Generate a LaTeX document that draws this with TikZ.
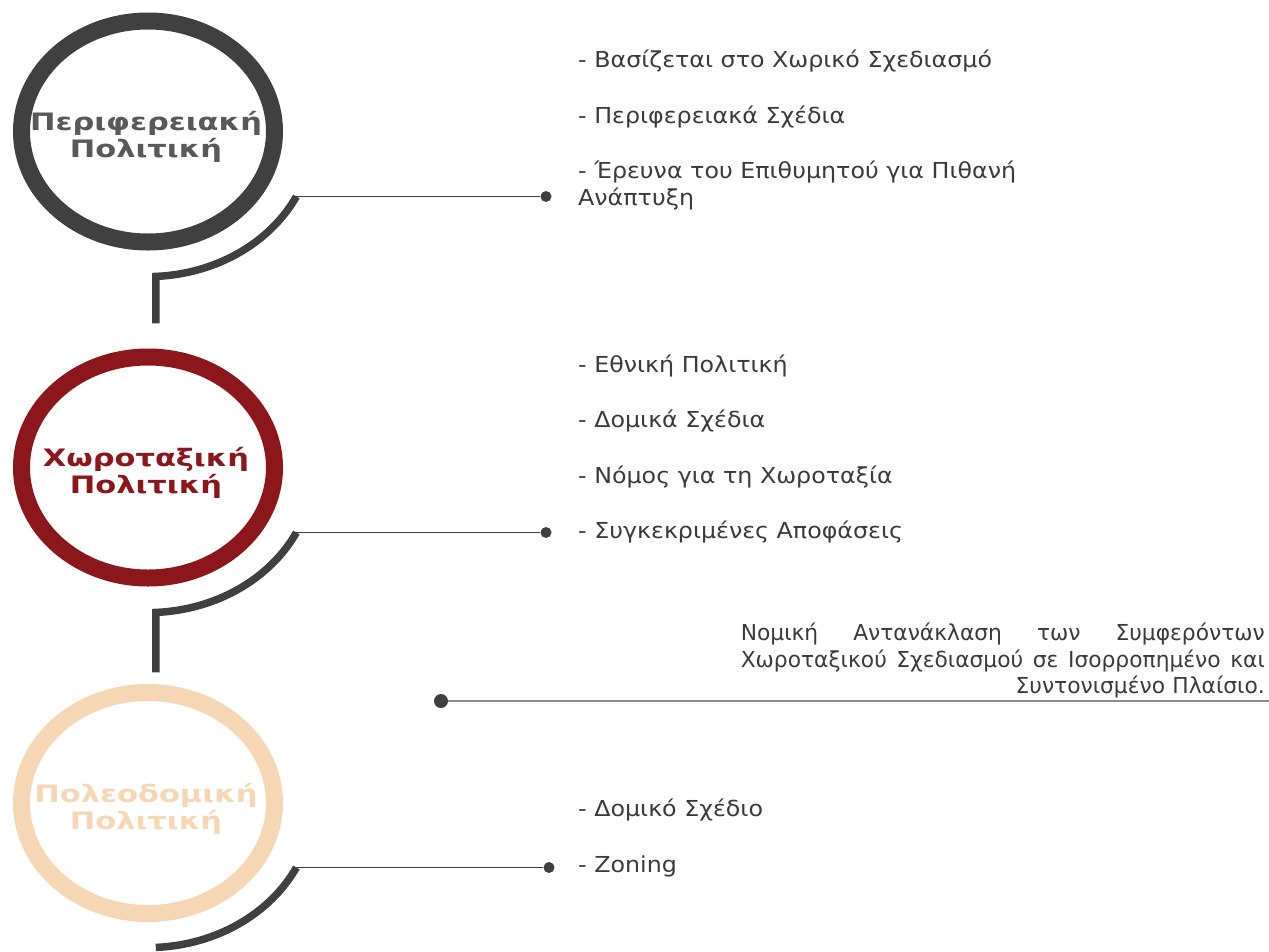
\documentclass[tikz,border=0pt]{standalone}
\usepackage{fontspec}
\setmainfont{DejaVu Sans}
\newfontfamily\labfont[FakeStretch=1.27]{DejaVu Sans}
\newfontfamily\itemfont[FakeStretch=1.08]{DejaVu Sans}
\newfontfamily\parafont[FakeStretch=0.99]{DejaVu Sans}
\usetikzlibrary{shapes.geometric}
\definecolor{darkg}{HTML}{404040}
\definecolor{labg}{HTML}{595959}
\definecolor{wine}{HTML}{8B171C}
\definecolor{peach}{HTML}{F5D7B5}
\definecolor{txt}{HTML}{3B3B3B}
\definecolor{lineg}{HTML}{8C8C8C}
\tikzset{
  ring/.style={ellipse, minimum width=253pt, minimum height=221pt, line width=17pt, inner sep=0pt},
  lab/.style={font=\labfont\bfseries\fontsize{24}{27}\selectfont, align=center, inner sep=0pt},
  conn/.style={draw=darkg, line width=7.5pt},
  thinline/.style={draw=darkg, line width=1.4pt},
  dot/.style={circle, fill=darkg, minimum size=11pt, inner sep=0pt},
  item/.style={font=\itemfont\fontsize{22}{27}\selectfont, text=txt, anchor=base west, align=left, inner sep=0pt}
}
\begin{document}
\begin{tikzpicture}[x=1pt,y=-1pt]
\useasboundingbox (0,0) rectangle (1269,951);
% circles
\node[ring, draw=darkg] (c1) at (148,131.5) {};
\node[ring, draw=wine] (c2) at (148,467.5) {};
\node[ring, draw=peach] (c3) at (148,803) {};
\node[lab, text=labg] (l1) at (146,137) {Περιφερειακή\\Πολιτική};
\node[lab, text=wine] (l2) at (146,473) {Χωροταξική\\Πολιτική};
\node[lab, text=peach] (l3) at (146,809) {Πολεοδομική\\Πολιτική};
% connectors
\coordinate (a1) at (296.4,196.5);
\coordinate (a2) at (296.4,532.5);
\coordinate (a3) at (296.4,867.5);
\node[dot] (d1) at (546,196.5) {};
\node[dot] (d2) at (546,532.5) {};
\node[dot] (d3) at (549,867.5) {};
\draw[conn] (a1) arc[start angle=-26.6, end angle=-87.3, x radius=166pt, y radius=145pt] -- ++(0,47);
\draw[conn] (a2) arc[start angle=-26.6, end angle=-87.3, x radius=166pt, y radius=145pt] -- ++(0,60);
\draw[conn] (a3) arc[start angle=-26.6, end angle=-87.3, x radius=166pt, y radius=145pt];
\draw[thinline] (a1) -- (d1);
\draw[thinline] (a2) -- (d2);
\draw[thinline] (a3) -- (d3);
% lists
\node[item] (t11) at (578,67) {- Βασίζεται στο Χωρικό Σχεδιασμό};
\node[item] (t12) at (578,123) {- Περιφερειακά Σχέδια};
\node[item] (t13) at (578,205) {- Έρευνα του Επιθυμητού για Πιθανή\\Ανάπτυξη};
\node[item] (t21) at (578,372) {- Εθνική Πολιτική};
\node[item] (t22) at (578,427) {- Δομικά Σχέδια};
\node[item] (t23) at (578,483) {- Νόμος για τη Χωροταξία};
\node[item] (t24) at (578,538) {- Συγκεκριμένες Αποφάσεις};
\node[item] (t31) at (578,816) {- Δομικό Σχέδιο};
\node[item] (t32) at (578,872) {- Zoning};
% paragraph
\node[font=\parafont\fontsize{22}{26.5}\selectfont, text=txt, anchor=north east, inner sep=0pt, text width=524pt, align=right] (p) at (1265,623)
 {\leavevmode\hbox to 524pt{Νομική\hfill Αντανάκλαση\hfill των\hfill Συμφερόντων}\\
  \leavevmode\hbox to 524pt{Χωροταξικού\hfill Σχεδιασμού\hfill σε\hfill Ισορροπημένο\hfill και}\\
  Συντονισμένο Πλαίσιο.};
\node[dot, minimum size=14pt] (d4) at (441,701) {};
\coordinate (e4) at (1269,701);
\draw[draw=lineg, line width=2pt] (d4) -- (e4);
\end{tikzpicture}
\end{document}
